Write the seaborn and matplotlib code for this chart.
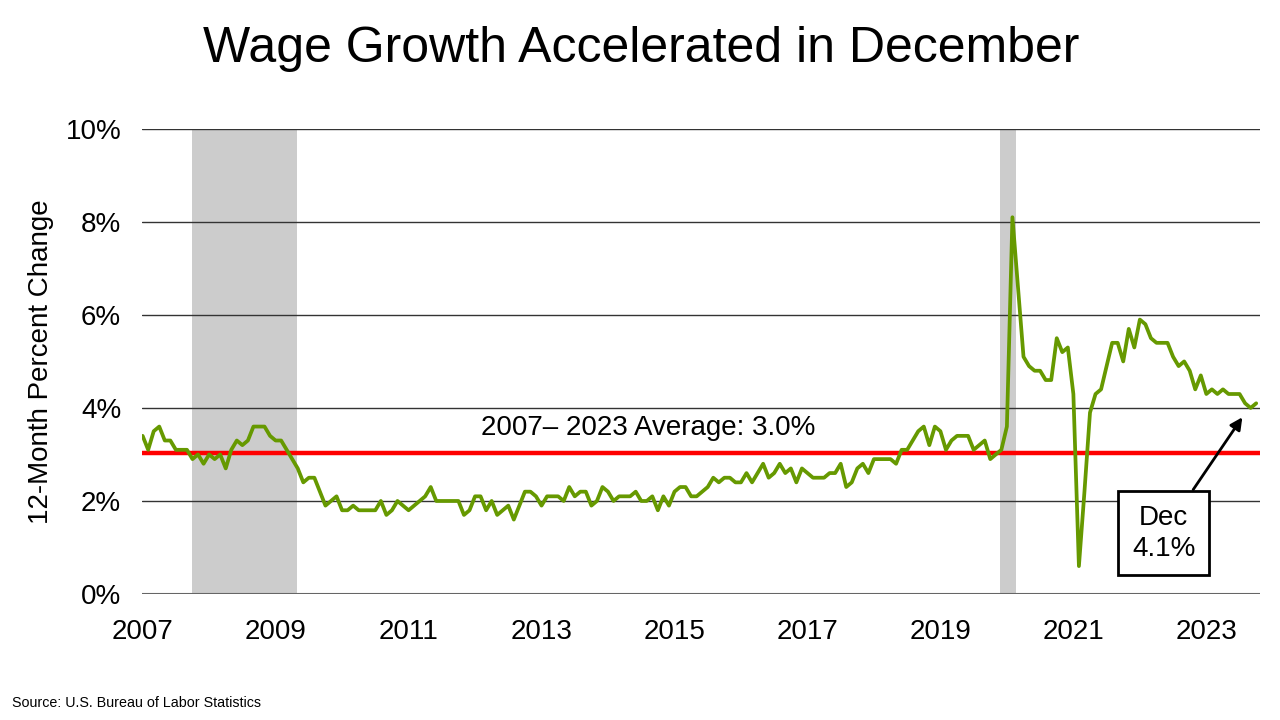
import numpy as np
import pandas as pd
import matplotlib
matplotlib.use("Agg")
import matplotlib.pyplot as plt
import seaborn as sns

# 12-month % change in average hourly earnings, monthly from Mar 2007 to Dec 2023
wage_growth = [
    3.4, 3.1, 3.5, 3.6, 3.3, 3.3, 3.1, 3.1, 3.1, 2.9, 3.0, 2.8, 3.0, 2.9, 3.0, 2.7,
    3.1, 3.3, 3.2, 3.3, 3.6, 3.6, 3.6, 3.4, 3.3, 3.3, 3.1, 2.9,
    2.7, 2.4, 2.5, 2.5, 2.2, 1.9, 2.0, 2.1, 1.8, 1.8, 1.9, 1.8, 1.8, 1.8, 1.8, 2.0,
    1.7, 1.8, 2.0, 1.9, 1.8, 1.9, 2.0,
    2.1, 2.3, 2.0, 2.0, 2.0, 2.0, 2.0, 1.7, 1.8, 2.1, 2.1, 1.8, 2.0, 1.7, 1.8, 1.9,
    1.6, 1.9, 2.2, 2.2, 2.1, 1.9, 2.1, 2.1, 2.1, 2.0, 2.3, 2.1, 2.2, 2.2, 1.9, 2.0,
    2.3, 2.2, 2.0, 2.1, 2.1, 2.1, 2.2, 2.0, 2.0, 2.1, 1.8, 2.1, 1.9, 2.2, 2.3, 2.3,
    2.1, 2.1, 2.2,
    2.3, 2.5, 2.4, 2.5, 2.5, 2.4, 2.4, 2.6, 2.4, 2.6, 2.8, 2.5, 2.6, 2.8, 2.6, 2.7,
    2.4, 2.7, 2.6, 2.5, 2.5, 2.5, 2.6, 2.6, 2.8, 2.3, 2.4, 2.7, 2.8, 2.6, 2.9, 2.9,
    2.9, 2.9, 2.8, 3.1, 3.1, 3.3, 3.5, 3.6, 3.2, 3.6, 3.5, 3.1, 3.3, 3.4, 3.4, 3.4,
    3.1, 3.2, 3.3, 2.9, 3.0, 3.1, 3.6,
    8.1, 6.6, 5.1, 4.9, 4.8, 4.8, 4.6, 4.6, 5.5, 5.2, 5.3, 4.3, 0.6, 2.2, 3.9, 4.3,
    4.4, 4.9, 5.4, 5.4, 5.0, 5.7, 5.3, 5.9, 5.8, 5.5, 5.4, 5.4, 5.4, 5.1, 4.9, 5.0,
    4.8, 4.4, 4.7, 4.3, 4.4, 4.3, 4.4, 4.3, 4.3, 4.3, 4.1, 4.0, 4.1,
]
average = 3.04
year_labels = [str(y) for y in range(2007, 2024, 2)]
# recession bands, in month positions
recessions = [(8.9, 27.8), (154.7, 157.7)]

df = pd.DataFrame({"month": np.arange(len(wage_growth)), "pct": wage_growth})

sns.set_theme(style="white")
plt.rcParams["font.family"] = ["Liberation Sans", "DejaVu Sans"]
plt.rcParams["text.color"] = "black"

fig = plt.figure(figsize=(12.8, 7.2), dpi=100)
ax = fig.add_axes([0.111, 0.175, 0.873, 0.646])

for start, end in recessions:
    ax.axvspan(start, end, color="#cccccc", lw=0, zorder=0)

for yv in [2, 4, 6, 8, 10]:
    ax.axhline(yv, color="#333333", lw=1, zorder=1)
ax.axhline(0, color="#666666", lw=1.5, zorder=1)

ax.axhline(average, color="#ff0000", lw=3.2, zorder=3)
sns.lineplot(data=df, x="month", y="pct", color="#669900", lw=2.7, ax=ax, zorder=4)

ax.text(91.2, 3.42, "2007\u2013 2023 Average: 3.0%", ha="center", va="baseline",
        fontsize=20, color="black")

ax.annotate("Dec\n4.1%", xy=(198.5, 3.8), xytext=(184.3, 1.31),
            ha="center", va="center", fontsize=20, linespacing=1.25, color="black",
            bbox=dict(boxstyle="square,pad=0.5", fc="white", ec="black", lw=2),
            arrowprops=dict(arrowstyle="-|>", color="black", lw=2, mutation_scale=18,
                            shrinkA=0, shrinkB=0),
            zorder=6)

ax.set_xlim(-0.1, 201.6)
ax.set_ylim(0, 10)
ax.set_xticks(np.arange(0, 193, 24))
ax.set_xticklabels(year_labels)
ax.set_yticks([0, 2, 4, 6, 8, 10])
ax.set_yticklabels([f"{v}%" for v in [0, 2, 4, 6, 8, 10]])
ax.tick_params(axis="both", length=0, labelsize=20, colors="black")
ax.tick_params(axis="y", pad=15)
ax.tick_params(axis="x", pad=18)
sns.despine(ax=ax, left=True, bottom=True)
ax.set_xlabel("")
ax.set_ylabel("12-Month Percent Change", fontsize=20, color="black")
ax.yaxis.set_label_coords(-0.079, 0.5)

fig.text(0.501, 1 - 49 / 720, "Wage Growth Accelerated in December",
         ha="center", va="center", fontsize=36, color="black")
fig.text(0.009, 1 - 703 / 720, "Source: U.S. Bureau of Labor Statistics",
         ha="left", va="center", fontsize=10.3, color="black")

fig.savefig("out.png", dpi=100)
